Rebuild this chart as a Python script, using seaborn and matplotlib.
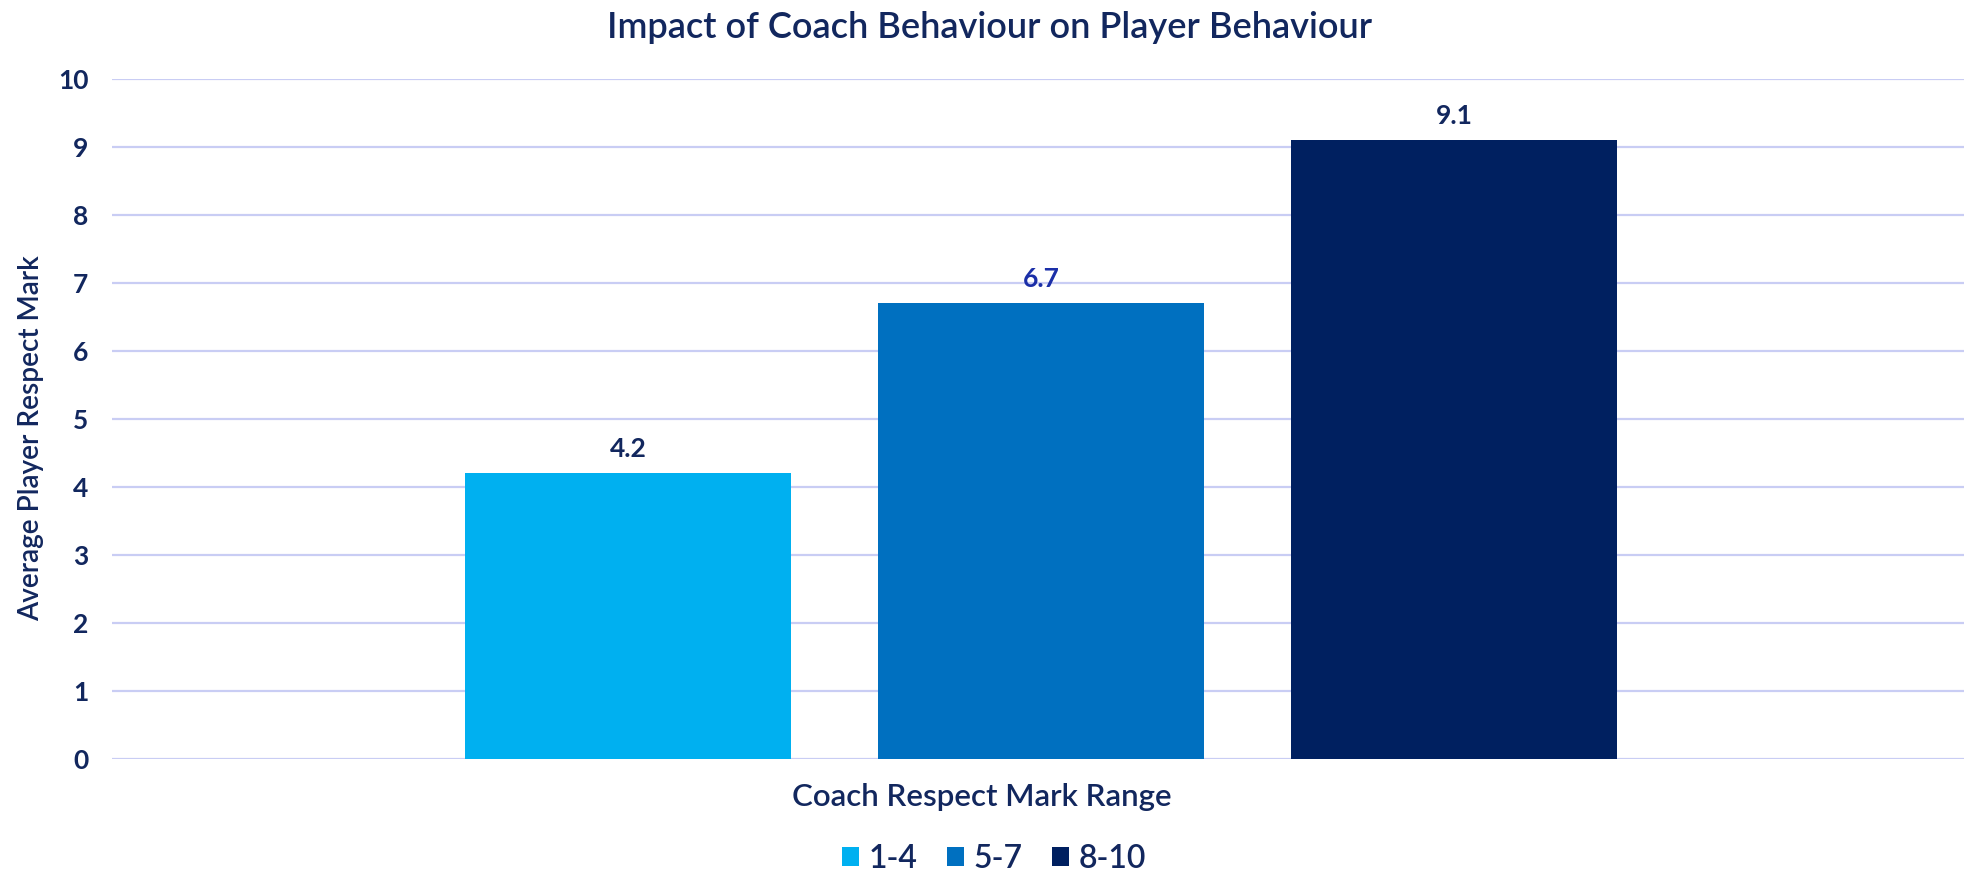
import pandas as pd
import seaborn as sns
import matplotlib.pyplot as plt

# Chart data
ranges = ["1-4", "5-7", "8-10"]
avg_respect = [4.2, 6.7, 9.1]
category = "Coach Respect Mark Range"
colors = ["#00B0F0", "#0070C0", "#002060"]
label_colors = ["#12275E", "#1B2FA8", "#12275E"]

df = pd.DataFrame({"group": [category] * len(ranges),
                   "Range": ranges,
                   "Average Player Respect Mark": avg_respect})

sns.set_theme(style="white")
plt.rcParams['font.family'] = ['Lato', 'DejaVu Sans']
navy = "#12275E"

fig = plt.figure(figsize=(19.64, 8.76), dpi=100)
ax = fig.add_axes([112 / 1964, 117 / 876, 1 - 112 / 1964, 680 / 876])

sns.barplot(data=df, x="group", y="Average Player Respect Mark", hue="Range",
            palette=colors, width=0.669, gap=0.21, saturation=1,
            edgecolor="none", ax=ax)

ax.set_ylim(0, 10)
ax.set_xlim(-0.5016, 0.4984)
ax.set_yticks(range(0, 11))
ax.yaxis.grid(True, color="#C9CDF4", linewidth=1.6)
ax.set_axisbelow(True)
for s in ax.spines.values():
    s.set_visible(False)
ax.tick_params(axis="y", length=0, pad=17, labelsize=19, labelcolor=navy)
ax.set_xticks([])
for t in ax.get_yticklabels():
    t.set_fontweight("bold")

for cont, c in zip(ax.containers, label_colors):
    ax.bar_label(cont, fmt="%.1f", padding=9, fontsize=19, color=c,
                 fontweight="bold")

ax.set_ylabel("Average Player Respect Mark", fontsize=20.2, color=navy,
              fontweight="semibold", va="center")
ax.yaxis.set_label_coords(-81 / 1852, 0.472)
ax.set_xlabel(category, fontsize=22.5, color=navy, fontweight="semibold")
ax.xaxis.set_label_coords((982 - 112) / 1852, -38 / 680)
ax.xaxis.label.set_va("center")

fig.suptitle("Impact of Coach Behaviour on Player Behaviour", x=990 / 1964,
             y=1 - 27 / 876, va="center", fontsize=26, color=navy,
             fontweight="semibold")

handles, labels = ax.get_legend_handles_labels()
ax.legend_.remove()
fig.legend(handles, labels, loc="center", bbox_to_anchor=(994 / 1964, 1 - 859 / 876),
           ncol=3, frameon=False, labelcolor=navy,
           prop={"weight": "semibold", "size": 23},
           handlelength=0.55, handleheight=0.55, handletextpad=0.3,
           columnspacing=0.9)

plt.savefig("out.png", dpi=100)
